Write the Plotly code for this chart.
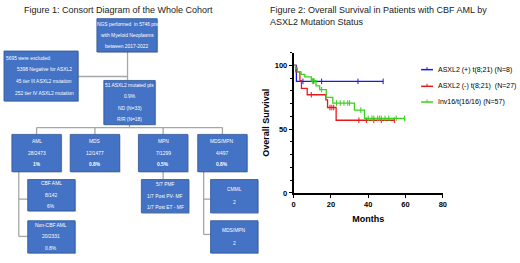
import plotly.graph_objects as go

W, H = 520, 263

# ---------------- survival data (months, % surviving) ----------------
blue_t = [0, 1.5, 48]
blue_s = [100, 87.5, 87.5]
blue_c = [5, 10.5, 15, 34.5, 48]

red_t = [0, 1.2, 3.4, 4.2, 7.3, 17.3, 18.2, 22.8, 54]
red_s = [100, 95, 88, 82, 77, 73, 67, 57, 57]
red_c = [9.5, 19.5, 20.5, 21.5, 35, 39, 43, 47, 54]

green_t = [0, 1, 2, 4, 6, 9.5, 12, 14, 17.5, 21, 32.6, 38, 59.5]
green_s = [100, 98, 95, 93, 91, 88, 84, 81, 75, 70.5, 65, 58.5, 58.5]
green_c = [10, 11, 15, 23, 25, 27, 29, 30, 36, 40, 42, 43, 45, 46, 47, 49, 51, 55, 59.5]

series_names = ["ASXL2 (+) t(8;21) (N=8)", "ASXL2 (-) t(8;21)  (N=27)", "Inv16/t(16/16) (N=57)"]
series_colors = ["#1a1ae6", "#e61a1a", "#3ccf1e"]

x_ticks = [0, 20, 40, 60, 80]
y_ticks = [0, 50, 100]

# ---------------- consort diagram content ----------------
boxes = [
    # x0, y0, x1, y1, lines, bold-last
    (96, 19, 157, 53, ["NGS performed  in 5746 pts", "with Myeloid Neoplasms", "between 2017-2022"], False),
    (2, 52, 77, 103, ["5398 Negative for ASXL2", "45 tier III ASXL2 mutation", "252 tier IV ASXL2 mutation"], False),
    (103, 82, 155, 127, ["51 ASXL2 mutated pts", "0.9%", "ND (N=33)", "R/R (N=18)"], False),
    (10, 137, 60, 175, ["AML", "28/2473", "1%"], True),
    (69, 137, 119, 175, ["MDS", "12/1477", "0.8%"], True),
    (138, 137, 188, 175, ["MPN", "7/1299", "0.5%"], True),
    (198, 137, 248, 175, ["MDS/MPN", "4/497", "0.8%"], True),
    (26, 183, 74, 215, ["CBF AML", "8/142", "6%"], False),
    (26, 225, 74, 258, ["Non-CBF AML", "20/2331", "0.8%"], False),
    (141, 183, 189, 217, ["5/7 PMF", "1/7 Post PV- MF", "1/7 Post ET - MF"], False),
    (211, 183, 259, 217, ["CMML", "2"], False),
    (211, 225, 259, 258, ["MDS/MPN", "2"], False),
]
excl_header = "5695 were excluded:"

connectors = [
    (127, 53, 127, 82), (77, 78, 127, 78), (129, 127, 129, 130),
    (35, 130, 223, 130), (35, 130, 35, 137), (94, 130, 94, 137),
    (163, 130, 163, 137), (223, 130, 223, 137),
    (17, 175, 17, 241), (17, 203, 26, 203), (17, 241, 26, 241),
    (163, 175, 163, 183),
    (204, 175, 204, 239), (204, 203, 211, 203), (204, 239, 211, 239),
]


def step_at(ts, ss, t):
    v = ss[0]
    for ti, si in zip(ts, ss):
        if ti <= t:
            v = si
    return v


fig = go.Figure()

for t, s, c, name, col in [
    (blue_t, blue_s, blue_c, series_names[0], series_colors[0]),
    (red_t, red_s, red_c, series_names[1], series_colors[1]),
    (green_t, green_s, green_c, series_names[2], series_colors[2]),
]:
    fig.add_trace(go.Scatter(x=t, y=s, mode="lines", line=dict(color=col, width=1.3, shape="hv"),
                             name=name, showlegend=False, xaxis="x", yaxis="y"))
    fig.add_trace(go.Scatter(x=c, y=[step_at(t, s, ci) for ci in c], mode="markers",
                             marker=dict(symbol="line-ns", size=4, line=dict(color=col, width=1)),
                             showlegend=False, hoverinfo="skip", xaxis="x", yaxis="y"))

# main plot area: x 295..446 px, y(0)=196.7 px, y(110)=53.7 px
fig.update_layout(
    width=W, height=H, margin=dict(l=0, r=0, t=0, b=0),
    paper_bgcolor="white", plot_bgcolor="rgba(0,0,0,0)",
    xaxis=dict(domain=[295 / W, 446 / W], range=[0, 80], tickvals=x_ticks, showgrid=False, zeroline=False,
               showline=True, linecolor="black", linewidth=1.6, ticks="outside", ticklen=3, tickwidth=1.4,
               tickcolor="black", tickfont=dict(family="Liberation Sans", size=7.5, color="black", weight="bold"),
               title=dict(text="<b>Months</b>", font=dict(family="Liberation Sans", size=9, color="black"), standoff=8),
               anchor="y", fixedrange=True),
    yaxis=dict(domain=[(H - 196.7) / H, (H - 53.7) / H], range=[0, 110], tickvals=y_ticks, showgrid=False,
               zeroline=False, showline=True, linecolor="black", linewidth=1.6, ticks="outside", ticklen=3,
               tickwidth=1.4, tickcolor="black",
               minor=dict(dtick=10, ticks="outside", ticklen=2, tickwidth=1, tickcolor="black"),
               tickfont=dict(family="Liberation Sans", size=7.5, color="black", weight="bold"),
               title=dict(text="<b>Overall Survival</b>", font=dict(family="Liberation Sans", size=9, color="black"),
                          standoff=4),
               anchor="x", fixedrange=True),
    xaxis2=dict(domain=[0, 1], range=[0, W], visible=False, anchor="y2", fixedrange=True),
    yaxis2=dict(domain=[0, 1], range=[H, 0], visible=False, anchor="x2", fixedrange=True),
    showlegend=False,
)

shapes = []
annotations = []

# connectors
for x0, y0, x1, y1 in connectors:
    shapes.append(dict(type="line", xref="x2", yref="y2", x0=x0, y0=y0, x1=x1, y1=y1,
                       line=dict(color="#a6a6a6", width=1.3), layer="below"))

box_font = dict(family="Liberation Sans, Arial, sans-serif", size=4.9, color="white")
for x0, y0, x1, y1, lines, bold_last in boxes:
    shapes.append(dict(type="rect", xref="x2", yref="y2", x0=x0 + 1, y0=y0 + 1, x1=x1 + 1, y1=y1 + 1,
                       fillcolor="rgba(0,0,0,0.18)", line=dict(width=0), layer="below"))
    shapes.append(dict(type="rect", xref="x2", yref="y2", x0=x0, y0=y0, x1=x1, y1=y1,
                       fillcolor="#4472c4", line=dict(color="#2f5597", width=0.8), layer="below"))
    n = len(lines)
    cy = (y0 + y1) / 2
    if x0 == 2:  # exclusion box
        annotations.append(dict(xref="x2", yref="y2", x=2, y=60, text=excl_header, showarrow=False,
                                xanchor="left", yanchor="middle", font=box_font))
        ys = [71, 83, 95]
    else:
        step = 11.5 if n > 2 else 13
        ys = [cy + (i - (n - 1) / 2) * step for i in range(n)]
    for i, (ln, yy) in enumerate(zip(lines, ys)):
        txt = f"<b>{ln}</b>" if (bold_last and i == n - 1) else ln
        annotations.append(dict(xref="x2", yref="y2", x=(x0 + x1) / 2 + (3 if x0 == 2 else 0), y=yy, text=txt,
                                showarrow=False, xanchor="center", yanchor="middle", font=box_font))

# titles
title_font = dict(family="Liberation Sans, Arial, sans-serif", size=9, color="#222222")
annotations.append(dict(xref="x2", yref="y2", x=118, y=10, text="Figure 1: Consort Diagram of the Whole Cohort",
                        showarrow=False, xanchor="center", yanchor="middle", font=title_font))
annotations.append(dict(xref="x2", yref="y2", x=269, y=10,
                        text="Figure 2: Overall Survival in Patients with CBF AML by",
                        showarrow=False, xanchor="left", yanchor="middle", font=title_font))
annotations.append(dict(xref="x2", yref="y2", x=269, y=22, text="ASXL2 Mutation Status",
                        showarrow=False, xanchor="left", yanchor="middle", font=title_font))

# manual legend
leg_y = [71, 88, 104]
for name, col, yy in zip(series_names, series_colors, leg_y):
    shapes.append(dict(type="line", xref="x2", yref="y2", x0=424, x1=436, y0=yy, y1=yy,
                       line=dict(color=col, width=1.5)))
    shapes.append(dict(type="line", xref="x2", yref="y2", x0=430, x1=430, y0=yy - 2.5, y1=yy,
                       line=dict(color=col, width=1)))
    annotations.append(dict(xref="x2", yref="y2", x=439, y=yy, text=name, showarrow=False,
                            xanchor="left", yanchor="middle",
                            font=dict(family="Liberation Sans, Arial, sans-serif", size=7, color="black")))

fig.update_layout(shapes=shapes, annotations=annotations)

fig.write_html("out.html", config={"displayModeBar": False},
               post_script="document.body.style.margin='0';document.body.style.overflow='hidden';")
